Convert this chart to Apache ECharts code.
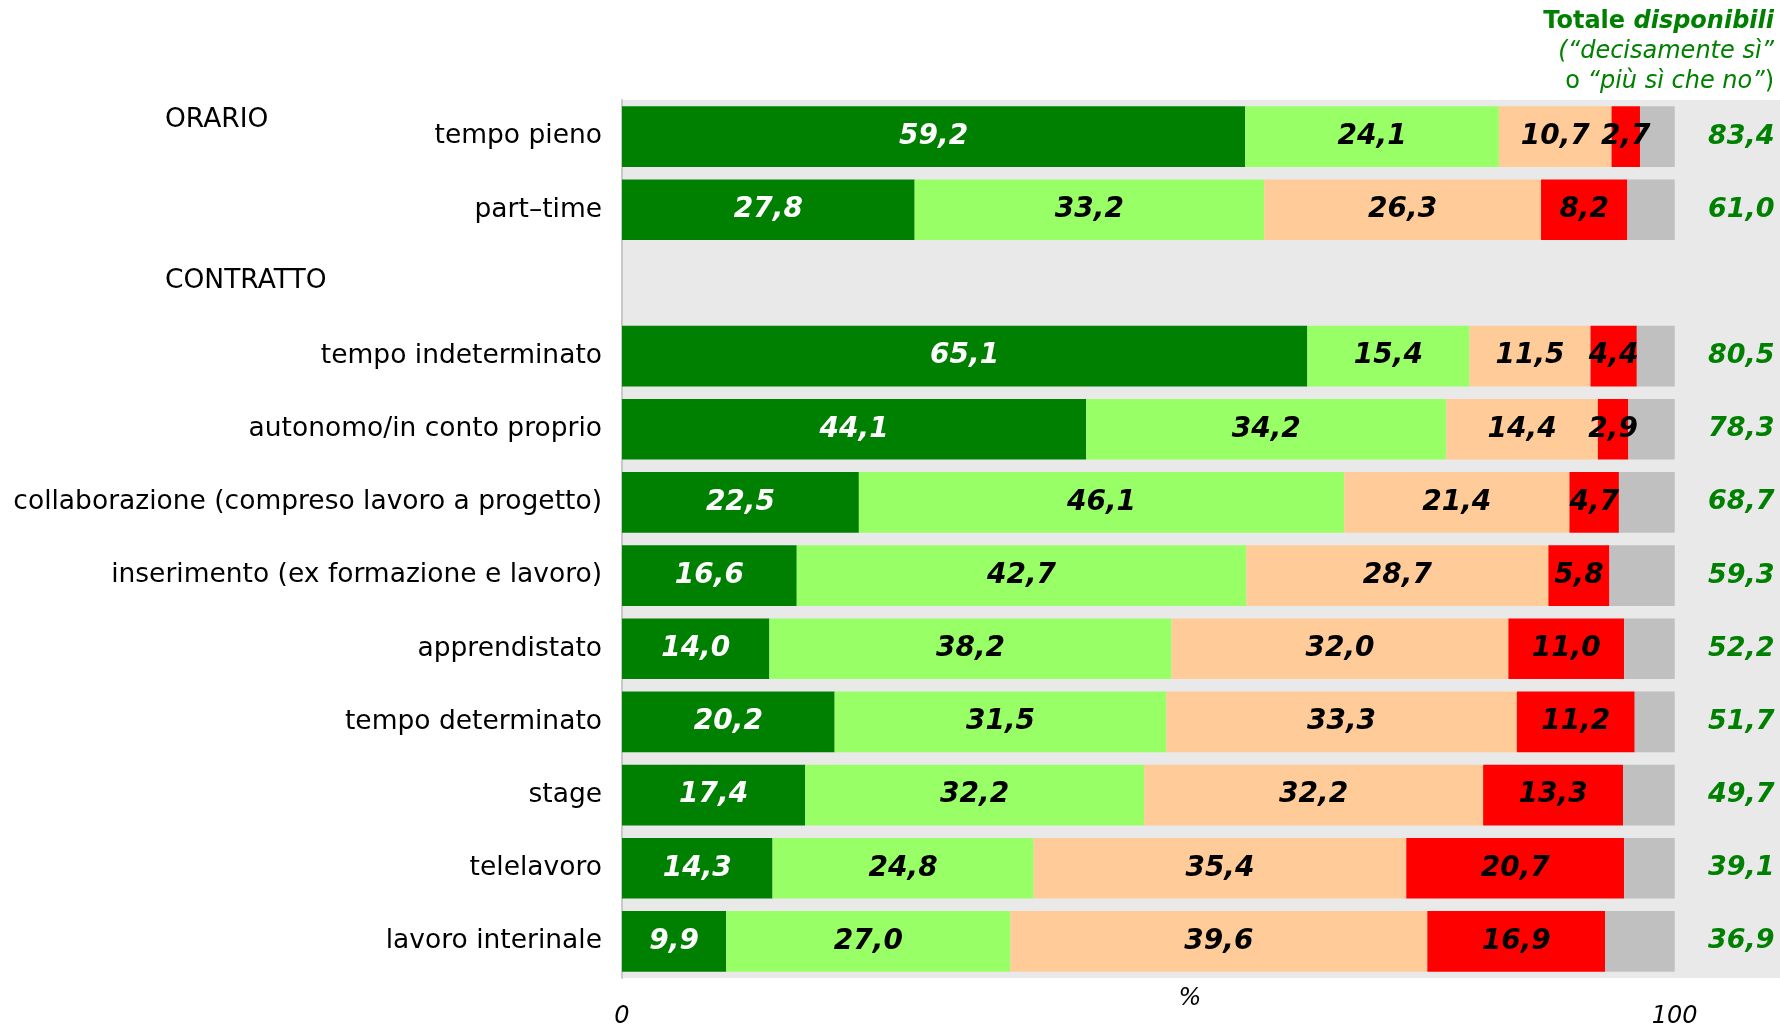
<!DOCTYPE html>
<html>
<head>
<meta charset="utf-8">
<script src="https://cdn.jsdelivr.net/npm/echarts@6/dist/echarts.min.js"></script>
<style>
html,body{margin:0;padding:0;background:#fff;}
#c{width:1780px;height:1027px;}
</style>
</head>
<body>
<div id="c"></div>
<script>
var categories = ['tempo pieno','part\u2013time','','tempo indeterminato','autonomo/in conto proprio','collaborazione (compreso lavoro a progetto)','inserimento (ex formazione e lavoro)','apprendistato','tempo determinato','stage','telelavoro','lavoro interinale'];
var decisamenteSi = [59.2, 27.8, null, 65.1, 44.1, 22.5, 16.6, 14.0, 20.2, 17.4, 14.3, 9.9];
var piuSiCheNo   = [24.1, 33.2, null, 15.4, 34.2, 46.1, 42.7, 38.2, 31.5, 32.2, 24.8, 27.0];
var piuNoCheSi   = [10.7, 26.3, null, 11.5, 14.4, 21.4, 28.7, 32.0, 33.3, 32.2, 35.4, 39.6];
var decisamenteNo = [2.7, 8.2, null, 4.4, 2.9, 4.7, 5.8, 11.0, 11.2, 13.3, 20.7, 16.9];
var nonSa        = [3.3, 4.5, null, 3.6, 4.4, 5.3, 6.2, 4.8, 3.8, 4.9, 4.8, 6.6];
var totaleDisponibili = [83.4, 61.0, null, 80.5, 78.3, 68.7, 59.3, 52.2, 51.7, 49.7, 39.1, 36.9];
var xTickLabels = ['0', '100'];

var FONT = 'DejaVu Sans';
function fmt(v){ return (v == null) ? '' : Number(v).toFixed(1).replace('.', ','); }

var chart = echarts.init(document.getElementById('c'), null, {renderer:'canvas'});

function barSeries(name, data, color, labelColor, showLabel){
  return {
    name: name, type: 'bar', stack: 'tot', data: data,
    barCategoryGap: '17%',
    itemStyle: {color: color},
    label: {
      show: showLabel, position: 'inside',
      color: labelColor, fontFamily: FONT, fontSize: 28, fontWeight: 'bold', fontStyle: 'italic',
      formatter: function(p){ return fmt(p.value); }
    },
    emphasis: {disabled: true}
  };
}

var totalsData = [];
totaleDisponibili.forEach(function(v, i){ if (v != null) totalsData.push([110, i, v]); });

var option = {
  animation: false,
  backgroundColor: '#ffffff',
  grid: {left: 622, right: 0, top: 100, bottom: 49, show: true, backgroundColor: '#e9e9e9', borderWidth: 0,
         containLabel: false, outerBoundsMode: 'none'},
  xAxis: {
    type: 'value', min: 0, max: 110, interval: 100,
    axisLine: {show: false}, axisTick: {show: false}, splitLine: {show: false},
    axisLabel: {
      margin: 27, color: '#000', fontFamily: FONT, fontSize: 24, fontStyle: 'italic',
      formatter: function(v){ return xTickLabels.indexOf(String(v)) >= 0 ? String(v) : ''; }
    },
    name: '%', nameLocation: 'middle', nameGap: 9, nameMoveOverlap: false,
    nameTextStyle: {color: '#000', fontFamily: FONT, fontSize: 24, fontStyle: 'italic', padding: [0, 22, 0, 0]}
  },
  yAxis: {
    type: 'category', data: categories, inverse: true,
    axisLine: {show: true, lineStyle: {color: '#c8c8c8', width: 2}},
    axisTick: {show: false},
    axisLabel: {margin: 20, color: '#000', fontFamily: FONT, fontSize: 26.5}
  },
  series: [
    barSeries('decisamente sì', decisamenteSi, '#008000', '#ffffff', true),
    barSeries('più sì che no', piuSiCheNo, '#99ff66', '#000000', true),
    barSeries('più no che sì', piuNoCheSi, '#ffcc99', '#000000', true),
    barSeries('decisamente no', decisamenteNo, '#ff0000', '#000000', true),
    barSeries('non sa', nonSa, '#c0c0c0', '#000000', false),
    {
      name: 'Totale disponibili', type: 'scatter', data: totalsData,
      symbolSize: 1, itemStyle: {color: 'rgba(0,0,0,0)', opacity: 1},
      label: {
        show: true, position: 'left', distance: 5, opacity: 1,
        color: '#008000', fontFamily: FONT, fontSize: 27, fontWeight: 'bold', fontStyle: 'italic',
        formatter: function(p){ return fmt(p.value[2]); }
      },
      emphasis: {disabled: true}, silent: true
    }
  ],
  graphic: [
    {type: 'text', left: 165, top: 107, style: {text: 'ORARIO', fontFamily: FONT, fontSize: 26.5, fill: '#000'}},
    {type: 'text', left: 165, top: 268, style: {text: 'CONTRATTO', fontFamily: FONT, fontSize: 26.5, fill: '#000'}},
    {type: 'text', right: 6, top: 10, style: {
      text: '{b|Totale }{bi|disponibili}',
      rich: {
        b: {fontFamily: FONT, fontSize: 24, fontWeight: 'bold', fill: '#008000'},
        bi: {fontFamily: FONT, fontSize: 24, fontWeight: 'bold', fontStyle: 'italic', fill: '#008000'}
      }
    }},
    {type: 'text', right: 6, top: 40, style: {
      text: '{i|(\u201cdecisamente s\u00ec\u201d}',
      rich: { i: {fontFamily: FONT, fontSize: 24, fontStyle: 'italic', fill: '#008000'} }
    }},
    {type: 'text', right: 6, top: 70, style: {
      text: '{n|o }{i|\u201cpi\u00f9 s\u00ec che no\u201d}{n|)}',
      rich: {
        n: {fontFamily: FONT, fontSize: 24, fill: '#008000'},
        i: {fontFamily: FONT, fontSize: 24, fontStyle: 'italic', fill: '#008000'}
      }
    }}
  ]
};
chart.setOption(option);
</script>
</body>
</html>
